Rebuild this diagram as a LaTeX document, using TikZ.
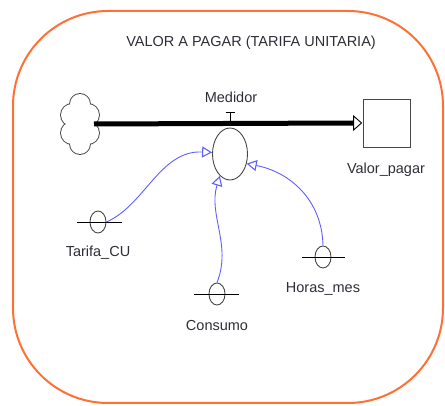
\documentclass[tikz,border=0pt]{standalone}
\usepackage{fontspec}
\setmainfont{Liberation Sans}
\usetikzlibrary{arrows.meta,shapes.geometric}
\definecolor{frameorange}{RGB}{255,112,52}
\definecolor{linkblue}{RGB}{95,95,255}
\definecolor{inkgray}{RGB}{70,70,70}
\definecolor{textgray}{RGB}{45,45,55}
\tikzset{
  lbl/.style={text=textgray, font=\fontsize{14.5}{17}\selectfont, inner sep=0pt},
  auxvar/.style={ellipse, draw=inkgray, line width=0.9pt, minimum width=16pt, minimum height=22pt, inner sep=0pt},
  link/.style={linkblue, line width=0.9pt, -{Triangle[open, length=10pt, width=11pt, line width=1.1pt]}},
}
\begin{document}
\begin{tikzpicture}[x=1pt,y=-1pt]
\useasboundingbox (0,0) rectangle (445,406);

% model frame
\draw[frameorange, line width=2pt, rounded corners=95pt] (13,11) rectangle (443,403);
\node[lbl] (title) at (251,43) {VALOR A PAGAR (TARIFA UNITARIA)};

% source cloud: union of circles, outline drawn thick then covered in white
\foreach \cx/\cy/\r in {80/104/10, 88/115/11, 88/133/11, 80/144/10, 72/133/11, 72/115/11}
  \draw[inkgray, line width=1.8pt] (\cx,\cy) circle (\r);
\foreach \cx/\cy/\r in {80/104/10, 88/115/11, 88/133/11, 80/144/10, 72/133/11, 72/115/11}
  \fill[white] (\cx,\cy) circle (\r);
\fill[white] (80,124) ellipse (12 and 20);
\coordinate (cloudR) at (94,124);

% stock
\node[draw=inkgray, line width=0.9pt, minimum width=47pt, minimum height=48pt, inner sep=0pt] (stock) at (386.5,123) {};
\node[lbl] (stocklbl) at (386,170) {Valor\_pagar};

% flow pipe with hollow head
\coordinate (pipeend) at ([xshift=-9pt]stock.west);
\draw[line width=5pt] (cloudR) -- (pipeend);
\draw[line width=0.9pt, fill=white, line join=miter] ([yshift=-7pt]pipeend) -- ([yshift=7pt]pipeend) -- ([xshift=-1pt]stock.west) -- cycle;

% valve and rate
\coordinate (valvetop) at (230,113);
\coordinate (valvebot) at (230,124);
\draw[line width=1pt] (valvetop) -- (valvebot);
\draw[line width=1pt] ([xshift=-4.5pt]valvetop) -- ([xshift=4.5pt]valvetop);
\node[lbl] (medlbl) at (231,97) {Medidor};
\node[ellipse, draw=inkgray, line width=0.9pt, minimum width=35pt, minimum height=52pt, inner sep=0pt] (medidor) at (230,154) {};

% auxiliaries
\node[auxvar] (tarifa) at (98,222) {};
\draw[line width=0.9pt] ([xshift=-21pt]tarifa.center) -- ([xshift=24pt]tarifa.center);
\node[lbl] (tarifalbl) at (98,253) {Tarifa\_CU};

\node[auxvar] (consumo) at (217,294) {};
\draw[line width=0.9pt] ([xshift=-23pt]consumo.center) -- ([xshift=22pt]consumo.center);
\node[lbl] (consumolbl) at (217,326) {Consumo};

\node[auxvar] (horas) at (323,257) {};
\draw[line width=0.9pt] ([xshift=-21pt]horas.center) -- ([xshift=22pt]horas.center);
\node[lbl] (horaslbl) at (323,289) {Horas\_mes};

% information links
\draw[link] (tarifa.east) .. controls (145,205) and (160,150) .. (medidor.175);
\draw[link] (consumo.north) .. controls (232,245) and (208,215) .. (medidor.245);
\draw[link] (horas.north) .. controls (322,200) and (290,172) .. (medidor.-30);
\end{tikzpicture}
\end{document}
